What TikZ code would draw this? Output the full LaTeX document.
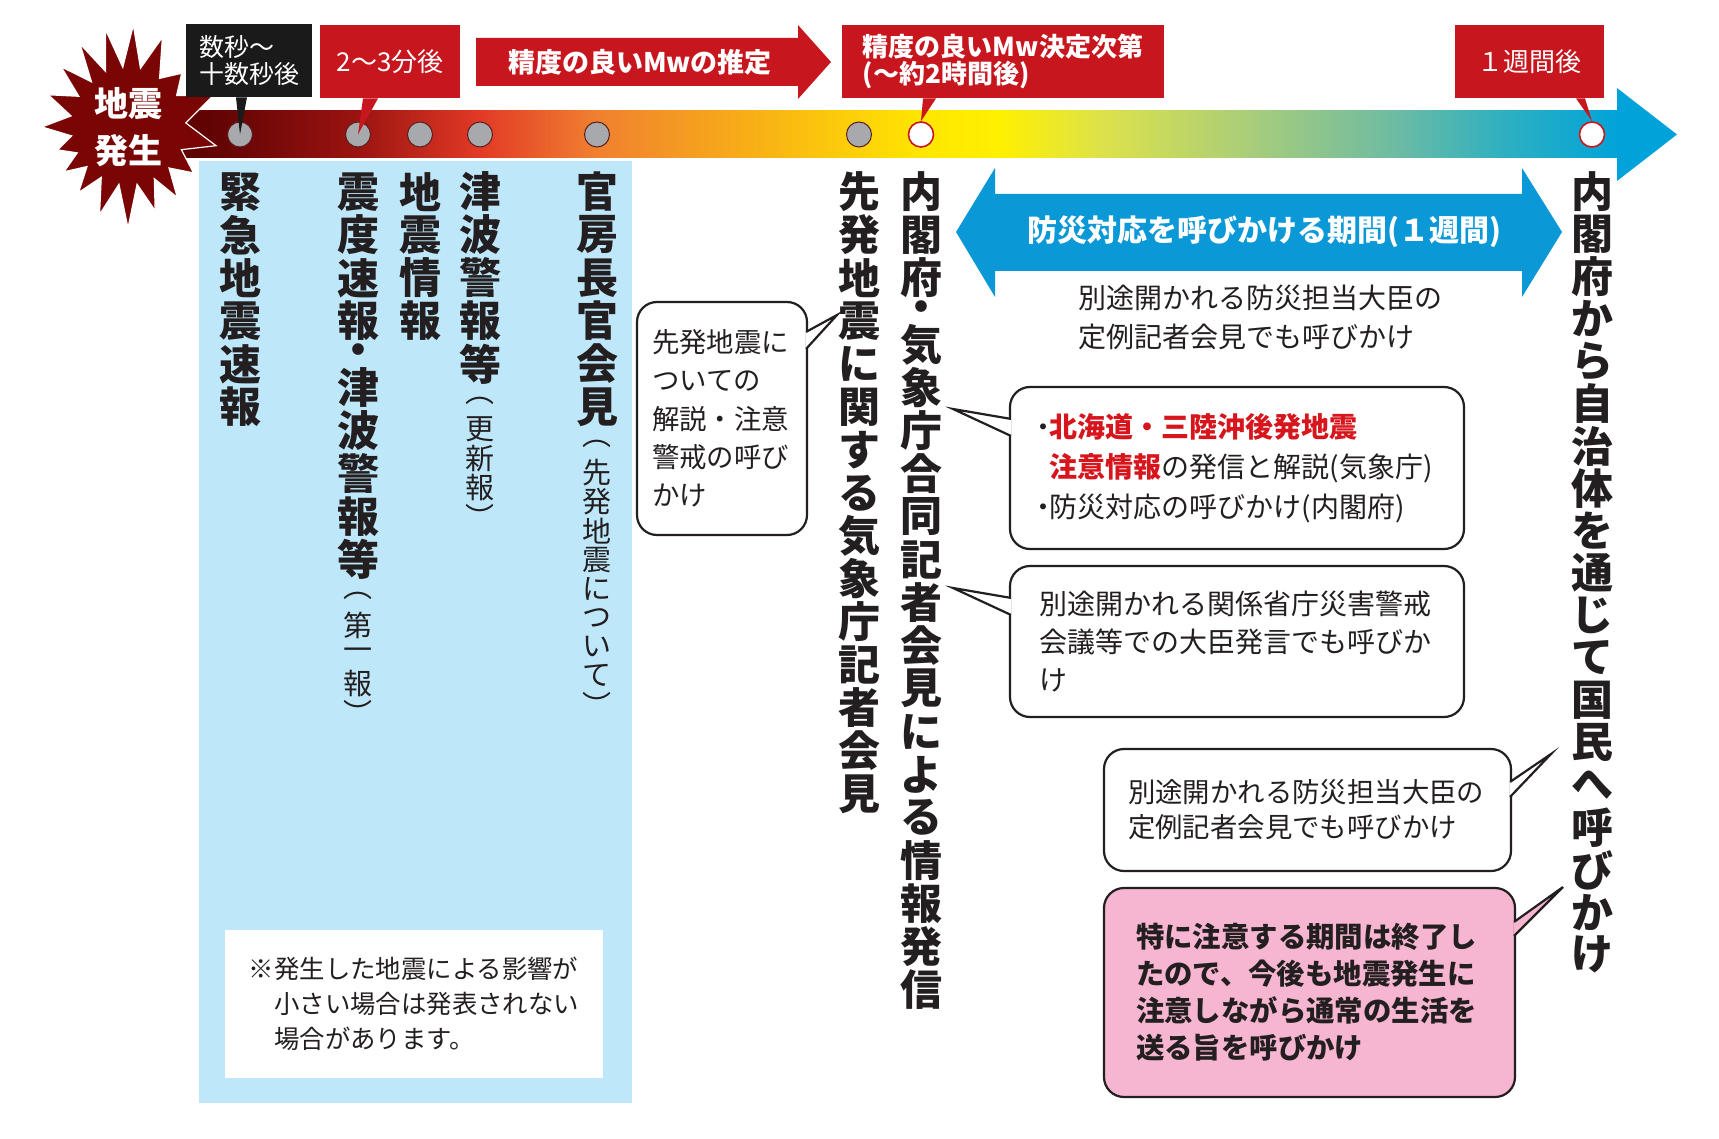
\documentclass[tikz,border=0pt]{standalone}
\usepackage{fontspec}
\setmainfont{Noto Sans CJK JP}
\usetikzlibrary{positioning, calc}

\definecolor{tlred}{HTML}{C8161E}
\definecolor{textred}{HTML}{D7151C}
\definecolor{tlblack}{HTML}{1A1A1A}
\definecolor{inkblack}{HTML}{231F20}
\definecolor{tlblue}{HTML}{0B98D7}
\definecolor{barblue}{HTML}{00A3D9}
\definecolor{panelblue}{HTML}{BEE7FA}
\definecolor{bubblepink}{HTML}{F6B5D0}
\definecolor{quakered}{HTML}{7A0505}
\definecolor{dotgray}{HTML}{A7A9AC}
\definecolor{dotedge}{HTML}{5A1E1E}

\pgfdeclarehorizontalshading{timeline}{100bp}{rgb(0bp)=(0.353,0,0); rgb(25bp)=(0.353,0,0); rgb(27.4bp)=(0.416,0.024,0.024); rgb(31.5bp)=(0.608,0.078,0.063); rgb(35.7bp)=(0.89,0.227,0.149); rgb(39.7bp)=(0.941,0.502,0.188); rgb(45.6bp)=(0.976,0.706,0.078); rgb(50.9bp)=(1,0.902,0); rgb(53.6bp)=(1,0.941,0); rgb(57.1bp)=(0.867,0.886,0.29); rgb(62.2bp)=(0.663,0.804,0.478); rgb(67.4bp)=(0.42,0.733,0.643); rgb(70.9bp)=(0.184,0.69,0.753); rgb(75bp)=(0,0.639,0.851); rgb(100bp)=(0,0.639,0.851)}

% vertical (tate) text: one character per cell
\ExplSyntaxOn
\dim_new:N \l__tate_pitch_dim
\cs_new_protected:Npn \__tate_cell:nn #1#2
  {
    \hbox_to_wd:nn { 1em }
      { \hss \vbox_to_ht:nn { #2 } { \vss \hbox:n { #1 } \vss } \hss }
  }
\NewDocumentCommand \tate { O{21.5pt} m }
  {
    \vbox:n
      {
        \offinterlineskip
        \dim_set:Nn \l__tate_pitch_dim { #1 }
        \tl_map_inline:nn { #2 }
          {
            \str_if_eq:nnTF { ##1 } { ・ }
              { \__tate_cell:nn { ##1 } { 0.55 \l__tate_pitch_dim } }
              { \__tate_cell:nn { ##1 } { \l__tate_pitch_dim } }
          }
      }
  }
\ExplSyntaxOff

\begin{document}
\begin{tikzpicture}[x=0.5pt, y=-0.5pt,
  tagbox/.style={rectangle, inner sep=0pt, text=white, align=left, minimum height=36.5pt},
  graydot/.style={circle, inner sep=0pt, minimum size=12.5pt, fill=dotgray, draw=dotedge, line width=0.5pt},
  whitedot/.style={circle, inner sep=0pt, minimum size=12.5pt, fill=white, draw=tlred, line width=0.8pt},
  tatebig/.style={anchor=north, inner sep=0pt, text=inkblack, font=\fontsize{21pt}{21pt}\bfseries\selectfont},
  tatesmall/.style={inner sep=0pt, text=inkblack, font=\fontsize{14.5pt}{14.5pt}\selectfont},
  bubble/.style={rectangle, rounded corners=10pt, draw=inkblack, line width=1.1pt, fill=white, inner sep=0pt, align=left, text=inkblack, font=\fontsize{14pt}{19pt}\selectfont},
  tail/.style={draw=inkblack, line width=1.1pt, line join=miter}
]
  \useasboundingbox (0,0) rectangle (1719,1139);
  \fill[white] (0,0) rectangle (1719,1139);

  % Panel of the first reports
  \fill[panelblue] (199,161) rectangle (632,1103);
  \node[fill=white, minimum width=189pt, minimum height=74pt, inner sep=0pt, align=left, text=inkblack,
        font=\fontsize{12.7pt}{17.5pt}\selectfont] (remark) at (414,1004)
    {※発生した地震による影響が\\\hspace*{1em}小さい場合は発表されない\\\hspace*{1em}場合があります。};

  % Timeline
  \shade[shading=timeline] (170,111) rectangle (1620,158);
  \fill[barblue] (1617,88) -- (1677,134.5) -- (1617,181) -- cycle;

  % Quake burst
  \begin{scope}[shift={(128,127)}]
    \filldraw[fill=quakered, draw=white, line width=0.6pt] (356:58)
      \foreach \a/\r in {12/90, 23/58, 35/80, 45/58, 55/86, 63/58, 72/88, 81/58, 90/101, 99/58,
                         108/92, 118/57, 127/82, 136/57, 145/78, 153/57, 162/74, 171/57, 180/86, 191/58,
                         202/86, 212/58, 222/90, 231/58, 240/96, 248/60, 257/100, 265/60, 273/102, 282/60,
                         291/96, 303/58, 315/76, 327/58, 340/90} { -- (\a:\r) } -- cycle;
  \end{scope}
  \node[text=white, align=center, inner sep=0pt, font=\fontsize{17pt}{23.5pt}\bfseries\selectfont] (quake) at (128,127) {地震\\発生};

  % Dots on the timeline
  \node[graydot] (d1) at (240,134.5) {};
  \node[graydot] (d2) at (358,134.5) {};
  \node[graydot] (d3) at (420,134.5) {};
  \node[graydot] (d4) at (480,134.5) {};
  \node[graydot] (d5) at (597,134.5) {};
  \node[graydot] (d6) at (859,134.5) {};
  \node[whitedot] (d7) at (921,134.5) {};
  \node[whitedot] (d8) at (1592,134.5) {};

  % Time tags
  \node[tagbox, fill=tlblack, minimum width=63pt, font=\fontsize{12.5pt}{13.5pt}\selectfont] (tag1) at (249,60.5) {数秒〜\\十数秒後};
  \node[tagbox, fill=tlred, minimum width=70pt, font=\fontsize{13pt}{13.5pt}\selectfont] (tag2) at (390,61.5) {2〜3分後};
  \fill[tlred] (476,38) -- (798,38) -- (798,25) -- (831,62) -- (798,99) -- (798,86) -- (476,86) -- cycle;
  \node[text=white, inner sep=0pt, font=\fontsize{13.5pt}{14pt}\bfseries\selectfont] (tag3) at (640,62) {精度の良いMwの推定};
  \node[tagbox, fill=tlred, minimum width=161pt, font=\fontsize{13pt}{13.5pt}\bfseries\selectfont] (tag4) at (1003,61.5) {精度の良いMw決定次第\\(〜約2時間後)};
  \node[tagbox, fill=tlred, minimum width=74.5pt, font=\fontsize{13pt}{13.5pt}\selectfont] (tag5) at (1529.5,61.5) {１週間後};

  \fill[tlblack] ([xshift=-6.5pt]tag1.south) -- ([xshift=-1pt]tag1.south) -- (d1.center) -- cycle;
  \fill[tlred] ([xshift=-13.5pt]tag2.south) -- ([xshift=-6pt]tag2.south) -- (d2.center) -- cycle;
  \fill[tlred] ([xshift=-40pt]tag4.south) -- ([xshift=-33.5pt]tag4.south) -- (d7.north) -- cycle;
  \fill[tlred] ([xshift=23.25pt]tag5.south) -- ([xshift=27.75pt]tag5.south) -- (d8.north) -- cycle;

  % Vertical captions
  \coordinate (coltop) at (0,170);
  \node[tatebig] (v1) at (d1 |- coltop) {\tate{緊急地震速報}};
  \node[tatebig] (v2) at (d2 |- coltop) {\tate{震度速報・津波警報等}};
  \node[tatesmall, below=0pt of v2] (v2s) {\tate[14.5pt]{︵第一報︶}};
  \node[tatebig] (v3) at (d3 |- coltop) {\tate{地震情報}};
  \node[tatebig] (v4) at (d4 |- coltop) {\tate{津波警報等}};
  \node[tatesmall, below=0pt of v4] (v4s) {\tate[14.5pt]{︵更新報︶}};
  \node[tatebig] (v5) at (d5 |- coltop) {\tate{官房長官会見}};
  \node[tatesmall, below=0pt of v5] (v5s) {\tate[14.5pt]{︵先発地震について︶}};
  \node[tatebig] (v6) at (d6 |- coltop) {\tate{先発地震に関する気象庁記者会見}};
  \node[tatebig] (v7) at (d7 |- coltop) {\tate{内閣府・気象庁合同記者会見による情報発信}};
  \node[tatebig] (v8) at (d8 |- coltop) {\tate[21.2pt]{内閣府から自治体を通じて国民へ呼びかけ}};

  % Period arrow
  \fill[tlblue] (956,232) -- (995,168) -- (995,194) -- (1522,194) -- (1522,168) -- (1562,232)
    -- (1522,297) -- (1522,271) -- (995,271) -- (995,297) -- cycle;
  \node[text=white, inner sep=0pt, font=\fontsize{15pt}{15pt}\bfseries\selectfont] (period) at (1264,232) {防災対応を呼びかける期間(１週間)};
  \node[anchor=west, inner sep=0pt, align=left, text=inkblack, font=\fontsize{14pt}{19.5pt}\selectfont] (minister1) at (1078,317.5)
    {別途開かれる防災担当大臣の\\定例記者会見でも呼びかけ};

  % Speech bubbles
  \node[bubble, minimum width=85pt, minimum height=116.5pt, text width=70pt, font=\fontsize{13.7pt}{19.2pt}\selectfont] (bA) at (722,418.5)
    {先発地震に\\ついての\\解説・注意\\警戒の呼び\\かけ};
  \node[bubble, minimum width=227pt, minimum height=81pt, text width=200pt, font=\fontsize{14pt}{20pt}\selectfont] (b1) at (1237,468)
    {\makebox[.45em]{・}{\color{textred}\bfseries 北海道・三陸沖後発地震}\\\hspace*{.45em}{\color{textred}\bfseries 注意情報}の発信と解説(気象庁)\\\makebox[.45em]{・}防災対応の呼びかけ(内閣府)};
  \node[bubble, minimum width=227pt, minimum height=75.5pt, text width=198pt] (b2) at (1237,641.5)
    {別途開かれる関係省庁災害警戒\\会議等での大臣発言でも呼びか\\け};
  \node[bubble, minimum width=203.5pt, minimum height=61pt, text width=179.5pt, font=\fontsize{13.7pt}{17.5pt}\selectfont] (b3) at (1307.5,810)
    {別途開かれる防災担当大臣の\\定例記者会見でも呼びかけ};
  \node[bubble, fill=bubblepink, minimum width=205.5pt, minimum height=104.5pt, text width=173.5pt, font=\fontsize{14.2pt}{18.5pt}\bfseries\selectfont] (b4) at (1309.5,992.5)
    {特に注意する期間は終了し\\たので、今後も地震発生に\\注意しながら通常の生活を\\送る旨を呼びかけ};

  % Bubble tails
  \coordinate (tA) at (837,315);
  \coordinate (t1) at (953,409);
  \coordinate (t2) at (953,588);
  \coordinate (t3) at (1551,754);
  \coordinate (t4) at (1563,887);
  \draw[tail, fill=white] ([shift={(-2,31)}]bA.north east) -- (tA) -- ([shift={(-2,48)}]bA.north east);
  \draw[tail, fill=white] ([shift={(2,33)}]b1.north west) -- (t1) -- ([shift={(2,50)}]b1.north west);
  \draw[tail, fill=white] ([shift={(2,33)}]b2.north west) -- (t2) -- ([shift={(2,50)}]b2.north west);
  \draw[tail, fill=white] ([shift={(-2,34)}]b3.north east) -- (t3) -- ([shift={(-2,49)}]b3.north east);
  \draw[tail, fill=bubblepink] ([shift={(-2,35)}]b4.north east) -- (t4) -- ([shift={(-2,49)}]b4.north east);
\end{tikzpicture}
\end{document}
